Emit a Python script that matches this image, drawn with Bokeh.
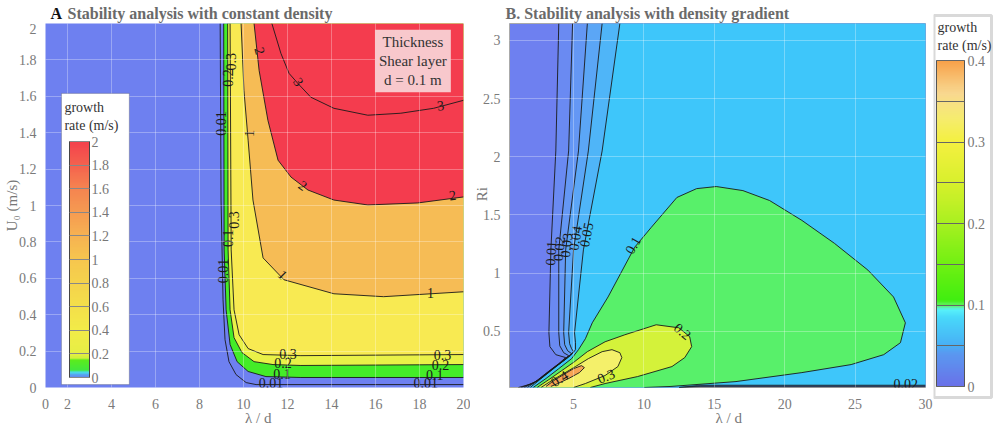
import math
from bokeh.plotting import figure
from bokeh.layouts import row, column
from bokeh.models import (Range1d, FixedTicker, NumeralTickFormatter, ColorBar,
                          LinearColorMapper, Label, ColumnDataSource, BoxAnnotation)
from bokeh.core.properties import value
from bokeh.embed import file_html
from bokeh.resources import INLINE

FONT = "Liberation Serif"

# ---------------- Panel A : constant density (lambda/d vs U0) ----------------
A_lam_001 = [8.94, 8.98, 9.07, 9.16, 9.34, 9.66, 10.12, 10.57, 20.0]
A_u_001 = [2.00, 1.03, 0.482, 0.263, 0.142, 0.071, 0.027, 0.016, 0.016]
A_lam_01 = [9.10, 9.12, 9.21, 9.39, 9.71, 10.21, 11.02, 12.61, 20.0]
A_u_01 = [2.00, 0.756, 0.427, 0.236, 0.142, 0.088, 0.060, 0.055, 0.055]
A_lam_02 = [9.28, 9.30, 9.39, 9.57, 9.93, 10.48, 11.34, 12.61, 20.0]
A_u_02 = [2.00, 0.756, 0.427, 0.274, 0.192, 0.142, 0.126, 0.121, 0.126]
A_lam_03 = [9.39, 9.44, 9.57, 9.80, 10.21, 10.89, 12.61, 20.0]
A_u_03 = [2.00, 0.756, 0.427, 0.290, 0.214, 0.181, 0.175, 0.181]
A_lam_1 = [9.89, 10.02, 10.21, 10.43, 10.89, 11.84, 14.11, 16.37, 20.0]
A_u_1 = [2.00, 1.633, 1.359, 1.030, 0.712, 0.592, 0.515, 0.499, 0.526]
A_lam_2 = [10.48, 10.71, 11.11, 11.57, 12.16, 12.93, 14.11, 15.65, 17.92, 20.0]
A_u_2 = [2.00, 1.742, 1.468, 1.249, 1.156, 1.085, 1.030, 1.003, 1.014, 1.047]
A_lam_3 = [11.29, 11.70, 12.07, 12.47, 13.06, 14.11, 15.65, 17.15, 18.64, 20.0]
A_u_3 = [2.00, 1.836, 1.726, 1.671, 1.595, 1.534, 1.496, 1.507, 1.534, 1.578]

A_label_text = ["0.01", "0.1", "0.2", "0.3", "0.01", "0.1", "0.2", "0.3",
                "1", "1", "1", "2", "2", "2", "3", "3",
                "0.3", "0.2", "0.01", "0.3", "0.1", "0.01"]
A_label_lam = [11.25, 11.75, 11.79, 12.02, 18.28, 18.69, 18.96, 19.05,
               11.79, 18.5, 10.25, 12.7, 19.5, 10.75, 12.5, 18.96,
               9.42, 9.28, 8.98, 9.55, 9.30, 9.05]
A_label_u = [0.024, 0.075, 0.132, 0.186, 0.024, 0.071, 0.126, 0.178,
             0.62, 0.52, 1.397, 1.11, 1.058, 1.85, 1.68, 1.551,
             1.79, 1.70, 1.45, 0.92, 0.82, 0.64]
A_label_deg = [0, 0, 0, 0, 0, 0, 0, 0,
               -45, 0, 88, -35, 8, -75, -55, 8,
               90, 90, 90, 90, 90, 90]

A_x_ticks = [1, 2, 4, 6, 8, 10, 12, 14, 16, 18, 20]
A_y_ticks = [0, 0.2, 0.4, 0.6, 0.8, 1, 1.2, 1.4, 1.6, 1.8, 2]
A_cb_ticks = [0, 0.2, 0.4, 0.6, 0.8, 1, 1.2, 1.4, 1.6, 1.8, 2]

# ---------------- Panel B : density gradient (lambda/d vs Ri) ----------------
B_x_001 = [3.95, 3.74, 3.39, 3.25, 3.32, 3.74, 4.44, 3.95, 3.11, 2.13, 1.08]
B_y_001 = [3.145, 2.05, 1.20, 0.487, 0.368, 0.299, 0.274, 0.222, 0.145, 0.051, 0.017]
B_x_002 = [4.93, 4.65, 3.95, 3.95, 4.02, 4.30, 4.65, 4.16, 3.32, 2.34, 1.29]
B_y_002 = [3.145, 2.05, 1.20, 0.487, 0.376, 0.316, 0.291, 0.239, 0.162, 0.068, 0.017]
B_x_003 = [5.98, 5.35, 4.44, 4.30, 4.37, 4.58, 4.86, 4.37, 3.53, 2.55, 1.50]
B_y_003 = [3.145, 2.05, 1.20, 0.487, 0.385, 0.333, 0.308, 0.256, 0.179, 0.085, 0.017]
B_x_004 = [7.03, 6.05, 5.00, 4.65, 4.72, 4.86, 5.00, 4.58, 3.74, 2.76, 1.71]
B_y_004 = [3.145, 2.05, 1.20, 0.487, 0.393, 0.350, 0.325, 0.274, 0.197, 0.103, 0.017]
B_x_005 = [8.29, 7.03, 5.70, 5.07, 5.14, 5.14, 4.79, 3.95, 2.97, 1.92]
B_y_005 = [3.145, 2.05, 1.20, 0.487, 0.402, 0.342, 0.291, 0.214, 0.120, 0.017]
B_strip_x = [12.5, 14.0, 30.0]
B_strip_y_001 = [0.017, 0.021, 0.021]
B_strip_y_002 = [0.017, 0.026, 0.026]
B_strip_y_003 = [0.017, 0.030, 0.030]
B_strip_y_004 = [0.017, 0.034, 0.034]
B_strip_y_005 = [0.017, 0.038, 0.038]
B_x_01 = [2.13, 3.04, 3.95, 4.86, 5.35, 5.84, 6.33, 7.45, 9.34, 10.52, 12.34, 13.74, 15.14,
          17.03, 18.92, 21.22, 23.53, 25.91, 27.73, 28.57, 28.22, 27.03, 24.72, 21.22,
          16.54, 11.92, 10.03]
B_y_01 = [0.017, 0.094, 0.179, 0.265, 0.342, 0.436, 0.573, 0.795, 1.222, 1.393, 1.650, 1.726,
          1.744, 1.709, 1.624, 1.453, 1.256, 1.026, 0.795, 0.573, 0.402, 0.299, 0.214, 0.145,
          0.068, 0.026, 0.017]
B_x_02 = [2.41, 3.25, 4.16, 5.07, 5.98, 7.24, 8.64, 10.87, 12.48, 13.25, 13.39, 12.90, 11.99,
          9.55, 7.24, 6.19]
B_y_02 = [0.017, 0.085, 0.162, 0.239, 0.325, 0.410, 0.470, 0.556, 0.530, 0.453, 0.368, 0.274,
          0.197, 0.111, 0.051, 0.017]
B_x_03 = [2.69, 3.46, 4.30, 5.14, 6.05, 7.03, 7.73, 8.29, 8.43, 8.15, 7.24, 5.84, 5.00]
B_y_03 = [0.017, 0.077, 0.137, 0.197, 0.265, 0.325, 0.342, 0.316, 0.274, 0.197, 0.120, 0.051, 0.017]
B_x_04 = [3.04, 3.60, 4.30, 5.00, 5.56, 5.77, 5.42, 4.65, 3.88, 3.39]
B_y_04 = [0.026, 0.077, 0.128, 0.179, 0.205, 0.188, 0.145, 0.094, 0.051, 0.026]

B_label_text = ["0.01", "0.02", "0.03", "0.04", "0.05", "0.1", "0.2", "0.3", "0.4", "0.02"]
B_label_x = [3.38, 3.96, 4.48, 5.12, 5.90, 9.2, 12.75, 7.3, 4.0, 28.6]
B_label_y = [1.17, 1.21, 1.24, 1.30, 1.33, 1.24, 0.50, 0.115, 0.095, 0.048]
B_label_deg = [87, 84, 83, 81, 79, 60, -40, 22, 33, 0]

B_x_ticks = [5, 10, 15, 20, 25, 30]
B_y_ticks = [0.5, 1, 1.5, 2, 2.5, 3]
B_cb_ticks = [0, 0.1, 0.2, 0.3, 0.4]
B_cb_minor = [0.05, 0.15, 0.25, 0.35]


# ---------------- helpers ----------------
def hex_rgb(h):
    h = h.lstrip("#")
    return tuple(int(h[i:i + 2], 16) for i in (0, 2, 4))


def ramp(anchors, n):
    vs = [a[0] for a in anchors]
    cs = [hex_rgb(a[1]) for a in anchors]
    lo, hi = vs[0], vs[-1]
    out = []
    for i in range(n):
        v = lo + (i + 0.5) * (hi - lo) / n
        for j in range(len(vs) - 1):
            if vs[j] <= v <= vs[j + 1]:
                t = (v - vs[j]) / (vs[j + 1] - vs[j]) if vs[j + 1] > vs[j] else 0.0
                c = tuple(int(round(cs[j][k] + t * (cs[j + 1][k] - cs[j][k]))) for k in range(3))
                out.append("#%02x%02x%02x" % c)
                break
    return out


def style(p, xticks, yticks, xlabel, ylabel, ylabel_standoff):
    p.xaxis.ticker = FixedTicker(ticks=xticks)
    p.yaxis.ticker = FixedTicker(ticks=yticks)
    for ax in (p.xaxis[0], p.yaxis[0]):
        ax.axis_line_color = None
        ax.major_tick_line_color = None
        ax.minor_tick_line_color = None
        ax.major_label_text_font = FONT
        ax.major_label_text_font_size = "14px"
        ax.major_label_text_color = "#7a7a7a"
        ax.formatter = NumeralTickFormatter(format="0.[0]")
        ax.axis_label_text_font = FONT
        ax.axis_label_text_font_size = "15px"
        ax.axis_label_text_font_style = "normal"
        ax.axis_label_text_color = "#777777"
    p.xaxis.major_label_standoff = 5
    p.yaxis.major_label_standoff = 3
    p.xaxis.axis_label = xlabel
    p.yaxis.axis_label = ylabel
    p.xaxis.axis_label_standoff = -2
    p.yaxis.axis_label_standoff = ylabel_standoff
    p.grid.grid_line_color = "white"
    p.grid.grid_line_alpha = 0.3
    p.grid.level = "guide"


def label(p, x, y, text, size="15px", color="#777777", bold=False, angle=0.0,
          align="left", baseline="alphabetic", **kw):
    p.add_layout(Label(x=x, y=y, text=text, text_font=FONT, text_font_size=size,
                       text_color=color, text_font_style="bold" if bold else "normal",
                       angle=angle, text_align=align, text_baseline=baseline, **kw))


def blank(width, height):
    q = figure(width=width, height=height, x_range=Range1d(0, width), y_range=Range1d(0, height),
               output_backend="svg", toolbar_location=None, title=None,
               x_axis_location=None, y_axis_location=None, min_border=0,
               outline_line_color=None, background_fill_color="white",
               border_fill_color="white")
    q.xgrid.grid_line_color = None
    q.ygrid.grid_line_color = None
    return q


pal_A = ramp([(0.0, "#6b78ee"), (0.03, "#50b0f2"), (0.05, "#48e6e0"), (0.06, "#40e840"),
              (0.15, "#5cec1c"), (0.16, "#cdf03a"), (0.2, "#e6ef44"), (0.4, "#f2ec48"),
              (1.0, "#f6c64e"), (1.2, "#f6b252"), (1.6, "#f58450"), (2.0, "#f4404c")], 160)
pal_B = ramp([(0.0, "#6a70e8"), (0.04, "#5a98f0"), (0.05, "#48b0f5"), (0.085, "#48d8fa"),
              (0.095, "#58f2fa"), (0.1, "#60f060"), (0.105, "#40ee10"), (0.15, "#70f012"),
              (0.2, "#a8f020"), (0.25, "#d8f02c"), (0.3, "#f4f040"), (0.33, "#f6ec70"),
              (0.36, "#f8d890"), (0.4, "#f8a048")], 160)

# ---------------- title strip ----------------
strip = blank(933, 23)
label(strip, 50, 10, "A", size="16px", color="#111111", bold=True, baseline="middle")
label(strip, 67, 10, "Stability analysis with constant density", size="16px",
      color="#6a6a6a", bold=True, baseline="middle")
label(strip, 505, 10, "B.  Stability analysis with density gradient", size="16px",
      color="#6a6a6a", bold=True, baseline="middle")

# ---------------- Panel A figure ----------------
pA = figure(width=470, height=405, x_range=Range1d(1, 20), y_range=Range1d(0, 2),
            output_backend="svg", toolbar_location=None, title=None,
            min_border_left=44, min_border_right=7, min_border_top=0, min_border_bottom=40,
            background_fill_color="#6e80f0", border_fill_color="white", outline_line_color=None)
style(pA, A_x_ticks, A_y_ticks, "\u00a0" * 2 + "λ / d", "U₀ (m/s)", -4)
pA.xaxis.major_label_overrides = {1: "0"}

fillsA = [(A_lam_01, A_u_01, "#44ec28"), (A_lam_02, A_u_02, "#e9f148"),
          (A_lam_03, A_u_03, "#f8ea52"), (A_lam_1, A_u_1, "#f6bc55"),
          (A_lam_2, A_u_2, "#f43c4e")]
pA.patches(xs=[lx + [20.0] for lx, _, _ in fillsA], ys=[ly + [2.0] for _, ly, _ in fillsA],
           fill_color=[c for _, _, c in fillsA], line_color=None)
pA.multi_line(xs=[A_lam_001, A_lam_01, A_lam_02, A_lam_03, A_lam_1, A_lam_2, A_lam_3],
              ys=[A_u_001, A_u_01, A_u_02, A_u_03, A_u_1, A_u_2, A_u_3],
              line_color="#1a1a1a", line_width=0.9)
srcA = ColumnDataSource(dict(x=A_label_lam, y=A_label_u, t=A_label_text,
                             a=[math.radians(d) for d in A_label_deg]))
pA.text(x="x", y="y", text="t", angle="a", source=srcA, text_font=value(FONT),
        text_font_size="14px", text_color="#1a1a1a", text_align="center",
        text_baseline="middle")

pA.add_layout(BoxAnnotation(left=1.726, right=4.81, bottom=0.016, top=1.616,
                            fill_color="white", fill_alpha=1.0,
                            line_color="#444444", line_width=1))
label(pA, 1.86, 1.58, "growth\nrate (m/s)", size="14px", color="#333333", baseline="top")
cbA = ColorBar(color_mapper=LinearColorMapper(palette=pal_A, low=0, high=2),
               ticker=FixedTicker(ticks=A_cb_ticks), formatter=NumeralTickFormatter(format="0.[0]"),
               location=(24, 10), orientation="vertical", width=20, height=236, padding=0,
               title=None, major_label_text_font=FONT, major_label_text_font_size="14px",
               major_label_text_color="#777777", label_standoff=2,
               major_tick_in=20, major_tick_out=0, major_tick_line_color="#888888",
               minor_tick_line_color=None, bar_line_color="#444444",
               border_line_color=None, background_fill_alpha=0.0, margin=0)
pA.add_layout(cbA)
label(pA, 17.7, 1.965, "Thickness\nShear layer\nd = 0.1 m", size="15px", color="#333333",
      align="center", baseline="top", background_fill_color="#f8c8cc", padding=4)

# ---------------- Panel B figure ----------------
pB = figure(width=463, height=405, x_range=Range1d(0.45, 30), y_range=Range1d(0.017, 3.145),
            output_backend="svg", toolbar_location=None, title=None,
            min_border_left=33, min_border_right=8, min_border_top=0, min_border_bottom=40,
            background_fill_color="#6e80f0", border_fill_color="white",
            outline_line_color="#aaaaaa")
style(pB, B_x_ticks, B_y_ticks, "\u00a0" * 6 + "λ / d", "\u00a0" * 6 + "Ri", -10)

low_levels = [(B_x_001, B_y_001, B_strip_y_001, "#6a8af2"),
              (B_x_002, B_y_002, B_strip_y_002, "#6497f4"),
              (B_x_003, B_y_003, B_strip_y_003, "#5ba6f6"),
              (B_x_004, B_y_004, B_strip_y_004, "#4fb5f8"),
              (B_x_005, B_y_005, B_strip_y_005, "#3ec6fa")]
pB.patches(xs=[cx + B_strip_x + [30.0] for cx, _, _, _ in low_levels],
           ys=[cy + sy + [3.145] for _, cy, sy, _ in low_levels],
           fill_color=[c for _, _, _, c in low_levels], line_color=None)
lobes = [(B_x_01, B_y_01, "#58f06a"), (B_x_02, B_y_02, "#d4f23a"),
         (B_x_03, B_y_03, "#f4f06a"), (B_x_04, B_y_04, "#f5a455")]
pB.patches(xs=[lx for lx, _, _ in lobes], ys=[ly for _, ly, _ in lobes],
           fill_color=[c for _, _, c in lobes], line_color=None)
pB.multi_line(xs=[cx for cx, _, _, _ in low_levels] + [lx for lx, _, _ in lobes],
              ys=[cy for _, cy, _, _ in low_levels] + [ly for _, ly, _ in lobes],
              line_color="#1a1a1a", line_width=0.9)
pB.multi_line(xs=[B_strip_x] * 5, ys=[sy for _, _, sy, _ in low_levels],
              line_color="#1a1a1a", line_width=0.5)
srcB = ColumnDataSource(dict(x=B_label_x, y=B_label_y, t=B_label_text,
                             a=[math.radians(d) for d in B_label_deg]))
pB.text(x="x", y="y", text="t", angle="a", source=srcB, text_font=value(FONT),
        text_font_size="14px", text_color="#1a1a1a", text_align="center",
        text_baseline="middle")

# ---------------- colour bar of panel B (own strip at the right) ----------------
pC = blank(62, 428)
pC.add_layout(BoxAnnotation(left=0.5, right=58, bottom=31, top=413,
                            fill_color="white", fill_alpha=1.0,
                            line_color="#808080", line_width=3))
label(pC, 4, 409, "growth\nrate (m/s)", size="14px", color="#333333", baseline="top")
cbB = ColorBar(color_mapper=LinearColorMapper(palette=pal_B, low=0, high=0.4),
               ticker=FixedTicker(ticks=B_cb_ticks, minor_ticks=B_cb_minor),
               formatter=NumeralTickFormatter(format="0.[0]"),
               location=(3, 42), orientation="vertical", width=28, height=326, padding=0,
               title=None, major_label_text_font=FONT, major_label_text_font_size="14px",
               major_label_text_color="#777777", label_standoff=3,
               major_tick_in=28, major_tick_out=0, major_tick_line_color="#666666",
               minor_tick_in=28, minor_tick_out=0, minor_tick_line_color="#666666",
               bar_line_color="#555555", border_line_color=None,
               background_fill_alpha=0.0, margin=0)
pC.add_layout(cbB)

layout = row(column(strip, row(pA, pB)), pC)
open("out.html", "w").write(file_html(layout, INLINE))
